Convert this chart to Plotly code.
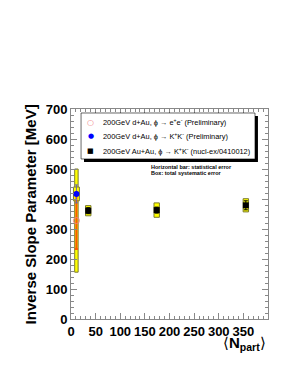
import plotly.graph_objects as go

# ---- data ----
npart_dau = [11]
ee_val = [328]
ee_stat = [95]
ee_sys = [172]

kk_dau_val = [417]
kk_dau_stat = [30]
kk_dau_sys = [23]

npart_auau = [35, 174, 355]
auau_val = [361, 363, 379]
auau_stat = [10, 10, 15]
auau_sys = [17, 24, 22]

x_ticks = [0, 50, 100, 150, 200, 250, 300, 350]
y_ticks = [0, 100, 200, 300, 400, 500, 600, 700]

legend_labels = [
    "200GeV d+Au, ϕ → e<sup>+</sup>e<sup>-</sup> (Preliminary)",
    "200GeV d+Au, ϕ → K<sup>+</sup>K<sup>-</sup> (Preliminary)",
    "200GeV Au+Au, ϕ → K<sup>+</sup>K<sup>-</sup> (nucl-ex/0410012)",
]
legend_symbols = ["○", "●", "■"]
legend_colors = ["#f08080", "#0000ff", "#000000"]
legend_sym_sizes = [8, 7, 7]

FONT = "Liberation Sans, Arial, Helvetica, sans-serif"
BOX_FILL = "#ffff00"
BOX_LINE = "#7a7a30"

def box_trace(x, val, sys, width):
    return go.Bar(
        x=x,
        y=[2 * s for s in sys],
        base=[v - s for v, s in zip(val, sys)],
        width=[width] * len(x),
        marker=dict(color=BOX_FILL, line=dict(color=BOX_LINE, width=1)),
        hoverinfo="skip",
    )

fig = go.Figure()
# systematic boxes
fig.add_trace(box_trace(npart_dau, ee_val, ee_sys, 7))
fig.add_trace(box_trace(npart_dau, kk_dau_val, kk_dau_sys, 12))
fig.add_trace(box_trace(npart_auau, auau_val, auau_sys, 11))

# points with statistical errors
fig.add_trace(go.Scatter(
    x=npart_dau, y=ee_val, mode="markers",
    marker=dict(symbol="circle-open", size=6, color="#f08080", line=dict(width=1)),
    error_y=dict(type="data", array=ee_stat, color="#ff5a00", thickness=2, width=1.5),
))
fig.add_trace(go.Scatter(
    x=npart_dau, y=kk_dau_val, mode="markers",
    marker=dict(symbol="circle", size=6, color="#0000ff"),
    error_y=dict(type="data", array=kk_dau_stat, color="#6666aa", thickness=1, width=1.5),
))
fig.add_trace(go.Scatter(
    x=npart_auau, y=auau_val, mode="markers",
    marker=dict(symbol="square", size=6, color="#000000"),
    error_y=dict(type="data", array=auau_stat, color="#000000", thickness=1, width=2),
))

axis_common = dict(
    showline=True, linecolor="#888888", linewidth=1,
    ticks="inside", tickcolor="#888888", ticklen=6,
    mirror="allticks", showgrid=False, zeroline=False,
    tickfont=dict(family=FONT, size=13, color="#000000", weight="bold"),
)
fig.update_xaxes(range=[0, 400], tickvals=x_ticks,
                 minor=dict(ticks="inside", ticklen=3, dtick=10, tickcolor="#888888"),
                 **axis_common)
fig.update_yaxes(range=[0, 700], tickvals=y_ticks,
                 minor=dict(ticks="inside", ticklen=3, dtick=20, tickcolor="#888888"),
                 **axis_common)

# legend box with shadow (paper coords)
lx0, lx1, ly0, ly1 = 0.051, 0.934, 0.762, 0.981
shapes = [
    dict(type="rect", xref="paper", yref="paper", x0=lx0 + 0.015, x1=lx1 + 0.015,
         y0=ly0 - 0.014, y1=ly1 - 0.014, fillcolor="#000000", line=dict(width=0), layer="above"),
    dict(type="rect", xref="paper", yref="paper", x0=lx0, x1=lx1, y0=ly0, y1=ly1,
         fillcolor="#ffffff", line=dict(color="#000000", width=0.6), layer="above"),
]
annotations = []
row_y = [0.937, 0.871, 0.800]
for sym, col, sz, lab, yy in zip(legend_symbols, legend_colors, legend_sym_sizes, legend_labels, row_y):
    annotations.append(dict(xref="paper", yref="paper", x=0.10, y=yy, text=sym,
                            showarrow=False, xanchor="center", yanchor="middle",
                            font=dict(family="DejaVu Sans", size=sz, color=col)))
    annotations.append(dict(xref="paper", yref="paper", x=0.150, y=yy, text=lab,
                            showarrow=False, xanchor="left", yanchor="middle",
                            font=dict(family=FONT, size=7.4, color="#000000")))

annotations.append(dict(xref="paper", yref="paper", x=0.398, y=0.726,
                        text="<b>Horizontal bar: statistical error</b>",
                        showarrow=False, xanchor="left", yanchor="middle",
                        font=dict(family=FONT, size=5.5, color="#000000")))
annotations.append(dict(xref="paper", yref="paper", x=0.398, y=0.695,
                        text="<b>Box: total systematic error</b>",
                        showarrow=False, xanchor="left", yanchor="middle",
                        font=dict(family=FONT, size=5.5, color="#000000")))

# axis titles
annotations.append(dict(xref="paper", yref="paper", x=-0.208, y=0.498,
                        text="<b>Inverse Slope Parameter [MeV]</b>", textangle=-90,
                        showarrow=False, xanchor="center", yanchor="middle",
                        font=dict(family=FONT, size=15, color="#000000")))
annotations.append(dict(xref="paper", yref="paper", x=1.0, y=-0.118,
                        text="⟨<b>N<sub>part</sub></b>⟩",
                        showarrow=False, xanchor="right", yanchor="middle",
                        font=dict(family=FONT, size=15, color="#000000")))

fig.update_layout(
    width=285, height=369,
    margin=dict(l=63, r=25, t=101, b=58),
    paper_bgcolor="#ffffff", plot_bgcolor="#ffffff",
    barmode="overlay", showlegend=False,
    shapes=shapes, annotations=annotations,
)

fig.write_html("out.html")
